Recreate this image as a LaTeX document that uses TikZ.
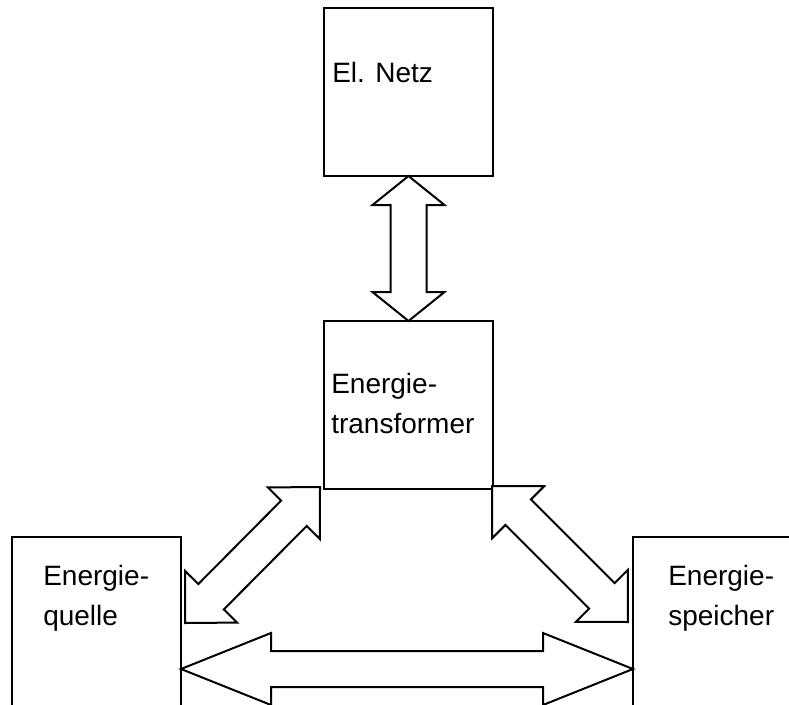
\documentclass[tikz,border=0pt]{standalone}
\usepackage{fontspec}
\setmainfont{Liberation Sans}
\usetikzlibrary{positioning, calc}
\tikzset{
	box/.style={
		rectangle,
		draw,
		line width=1.5pt,
		minimum width=126.75pt,
		minimum height=126pt,
		inner sep=0pt,
		outer sep=0pt,
	},
	boxtext/.style={
		anchor=base west,
		align=left,
		inner sep=0pt,
		font=\fontsize{21pt}{30pt}\selectfont,
	},
	fat/.style={
		draw,
		line width=1.5pt,
		line join=miter,
		fill=white,
	},
}
% #1 from, #2 to, #3 head length, #4 half head width, #5 half shaft width
\newcommand{\fatarrow}[5]{%
	\path ($(#1)!#3!(#2)$) coordinate (fa1) ($(#2)!#3!(#1)$) coordinate (fb1);
	\draw [fat] (#1) -- ($(fa1)!#4!90:(#2)$) -- ($(fa1)!#5!90:(#2)$)
		-- ($(fb1)!#5!90:(#2)$) -- ($(fb1)!#4!90:(#2)$) -- (#2)
		-- ($(fb1)!#4!-90:(#2)$) -- ($(fb1)!#5!-90:(#2)$)
		-- ($(fa1)!#5!-90:(#2)$) -- ($(fa1)!#4!-90:(#2)$) -- cycle;
}

\begin{document}
\begin{tikzpicture}[x=0.75pt, y=-0.75pt]
		\useasboundingbox (0,0) rectangle (789,704);
		\clip (0,0) rectangle (789,704);
		
		\node [box, anchor=north west] (netz) at (324,8) {};
		\node [box, below=108.75pt of netz] (trafo) {};
		\node [box, minimum height=135pt, anchor=north west] (quelle) at (12,537) {};
		\node [box, minimum height=135pt, anchor=north west] (speicher) at (633,537) {};
		
		\node [boxtext] (netzlabel) at ($(netz.north west)+(8,74)$) {El. Netz};
		\node [boxtext] (trafolabel) at ($(trafo.north west)+(7,112)$) {Energie-\\transformer};
		\node [boxtext] (quellelabel) at ($(quelle.north west)+(31,88)$) {Energie-\\quelle};
		\node [boxtext] (speicherlabel) at ($(speicher.north west)+(35,88)$) {Energie-\\speicher};
		
		\coordinate (ql1) at ($(quelle.north east)+(4,86)$);
		\coordinate (tr1) at ($(trafo.south west)+(-4,-2)$);
		\coordinate (tr2) at ($(trafo.south east)+(-1,-3)$);
		\coordinate (sp1) at ($(speicher.north west)+(-5,85)$);
		\coordinate (ql2) at ($(quelle.north east)+(0,132)$);
		\coordinate (sp2) at ($(speicher.north west)+(0,132)$);
		
		\fatarrow{netz.south}{trafo.north}{21.75pt}{27pt}{13.5pt}
		\fatarrow{ql1}{tr1}{27.75pt}{27.5pt}{13.5pt}
		\fatarrow{tr2}{sp1}{27.75pt}{27.5pt}{13.5pt}
		\fatarrow{ql2}{sp2}{67.5pt}{27pt}{13.5pt}
	\end{tikzpicture}
\end{document}
